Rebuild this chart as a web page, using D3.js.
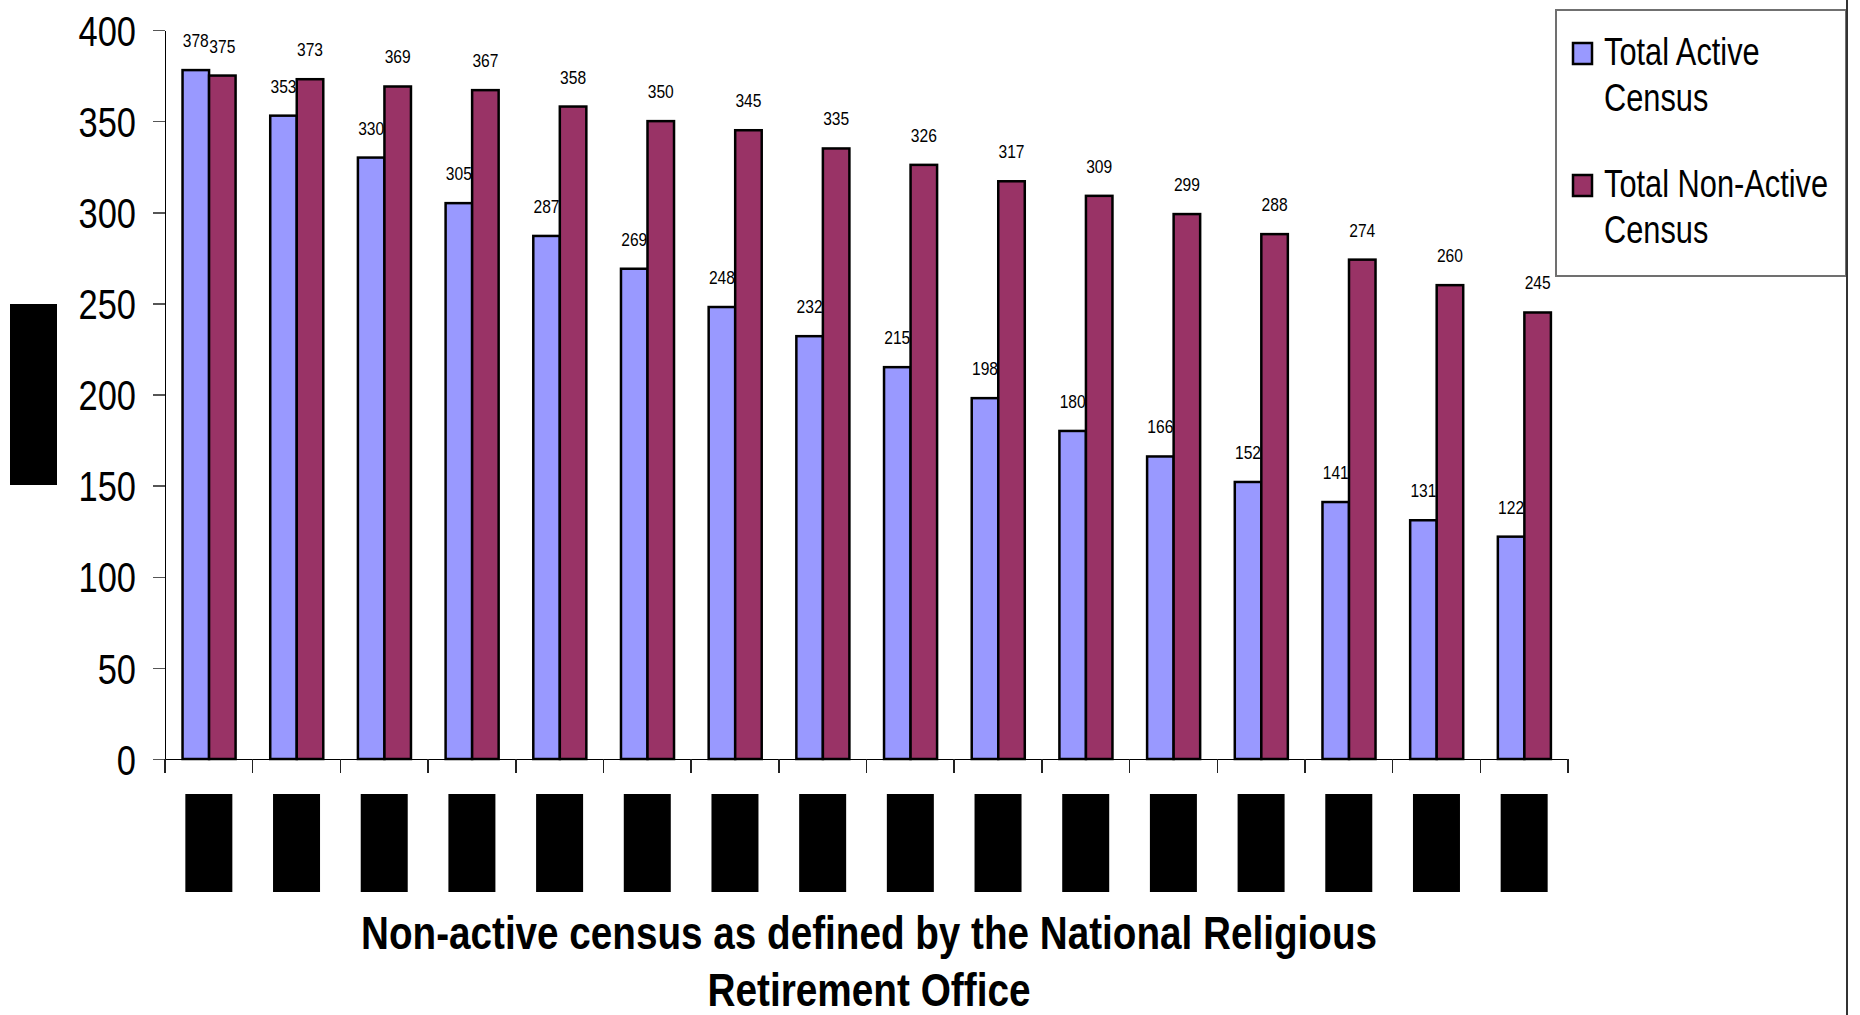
<!DOCTYPE html>
<meta charset="utf-8">
<style>

body {
  margin: 0;
  background: #fff;
}

svg { display: block; }

text { font-family: "Liberation Sans", Arial, sans-serif; }
.axis path, .axis line { shape-rendering: crispEdges; }
.y.axis text { font-size: 42px; fill: #000; }
.y.axis line { stroke: #555; stroke-width: 1.5px; }
.axis path.domain { stroke: #000; stroke-width: 1.5px; }
.bar { stroke: #000; stroke-width: 2.5px; }
.value { font-size: 19px; fill: #000; text-anchor: middle; }
.legend text { font-size: 38px; fill: #000; }
.title { font-size: 46px; font-weight: bold; fill: #000; text-anchor: middle; }

</style>
<body>
<script src="https://d3js.org/d3.v7.min.js"></script>
<script>

// categories are blacked out in the source, one box per group
var categories = ["1", "2", "3", "4", "5", "6", "7", "8", "9", "10", "11", "12", "13", "14", "15", "16"];
var series = ["Total Active Census", "Total Non-Active Census"];
var active = [378, 353, 330, 305, 287, 269, 248, 232, 215, 198, 180, 166, 152, 141, 131, 122];
var nonActive = [375, 373, 369, 367, 358, 350, 345, 335, 326, 317, 309, 299, 288, 274, 260, 245];
var yTicks = [0, 50, 100, 150, 200, 250, 300, 350, 400];
var colors = ["#9999ff", "#993366"];
var legendLines = [["Total Active", "Census"], ["Total Non-Active", "Census"]];
var titleLines = ["Non-active census as defined by the National Religious", "Retirement Office"];

var width = 1860,
    height = 1015,
    plot = {left: 165, right: 1568, top: 30, bottom: 759};

// no narrow face installed, so squeeze digits to an Arial Narrow width
var narrow = function(size) {
  return function(d) { return String(d).length * 0.456 * size; };
};

// squeeze any text to a share of its natural width
function condense(sel) {
  sel.each(function() {
    var w = this.getComputedTextLength();
    d3.select(this)
        .attr("textLength", w * 0.81)
        .attr("lengthAdjust", "spacingAndGlyphs");
  });
}

var svg = d3.select("body").append("svg")
    .attr("width", width)
    .attr("height", height);

var x0 = d3.scaleBand()
    .domain(categories)
    .range([plot.left, plot.right]);

var x1 = d3.scaleBand()
    .domain(series)
    .range([x0.bandwidth() * 0.2, x0.bandwidth() * 0.805]);

var y = d3.scaleLinear()
    .domain([0, 400])
    .range([plot.bottom, plot.top]);

var rows = categories.map(function(c, i) {
  return {cat: c, values: [active[i], nonActive[i]]};
});

// y axis
svg.append("g")
    .attr("class", "y axis")
    .attr("transform", "translate(" + plot.left + ",0)")
    .call(d3.axisLeft(y).tickValues(yTicks).tickSize(12).tickPadding(17).tickSizeOuter(0))
    .call(function(g) {
      g.selectAll("text")
          .attr("dy", "0.36em")
          .attr("textLength", narrow(42))
          .attr("lengthAdjust", "spacingAndGlyphs");
    });

// bars
var group = svg.append("g").selectAll("g")
    .data(rows)
  .enter().append("g")
    .attr("transform", function(d) { return "translate(" + x0(d.cat) + ",0)"; });

group.selectAll("rect")
    .data(function(d) { return d.values.map(function(v, i) { return {key: series[i], value: v, i: i}; }); })
  .enter().append("rect")
    .attr("class", "bar")
    .attr("x", function(d) { return x1(d.key); })
    .attr("width", x1.bandwidth())
    .attr("y", function(d) { return y(d.value); })
    .attr("height", function(d) { return y(0) - y(d.value); })
    .attr("fill", function(d) { return colors[d.i]; });

group.selectAll("text")
    .data(function(d) { return d.values.map(function(v, i) { return {key: series[i], value: v}; }); })
  .enter().append("text")
    .attr("class", "value")
    .attr("x", function(d) { return x1(d.key) + x1.bandwidth() / 2; })
    .attr("y", function(d) { return y(d.value) - 23; })
    .attr("textLength", function(d) { return narrow(19)(d.value); })
    .attr("lengthAdjust", "spacingAndGlyphs")
    .text(function(d) { return d.value; });

// x axis, ticks sit between the groups
var xAxis = svg.append("g")
    .attr("class", "x axis")
    .attr("transform", "translate(0," + plot.bottom + ")")
    .call(d3.axisBottom(x0).tickSize(0).tickFormat(""));

xAxis.selectAll(".sep")
    .data(categories.concat(["end"]))
  .enter().append("line")
    .attr("class", "sep")
    .attr("x1", function(d, i) { return plot.left + i * x0.step(); })
    .attr("x2", function(d, i) { return plot.left + i * x0.step(); })
    .attr("y1", 0)
    .attr("y2", 14)
    .attr("stroke", "#222")
    .attr("stroke-width", 1.5);

// redacted category labels
svg.append("g").selectAll("rect")
    .data(categories)
  .enter().append("rect")
    .attr("x", function(d) { return x0(d) + x0.bandwidth() / 2 - 23.5; })
    .attr("y", 794)
    .attr("width", 47)
    .attr("height", 98)
    .attr("fill", "#000");

// redacted y axis title
svg.append("rect")
    .attr("x", 10)
    .attr("y", 304)
    .attr("width", 47)
    .attr("height", 181)
    .attr("fill", "#000");

// x axis title
svg.selectAll(".title")
    .data(titleLines)
  .enter().append("text")
    .attr("class", "title")
    .attr("x", 869)
    .attr("y", function(d, i) { return 949 + i * 57; })
    .attr("textLength", function(d, i) { return i === 0 ? 1016 : 323; })
    .attr("lengthAdjust", "spacingAndGlyphs")
    .text(function(d) { return d; });

// legend
var legend = svg.append("g").attr("class", "legend");

legend.append("rect")
    .attr("x", 1556)
    .attr("y", 10)
    .attr("width", 290)
    .attr("height", 266)
    .attr("fill", "#fff")
    .attr("stroke", "#707070")
    .attr("stroke-width", 2);

var item = legend.selectAll(".item")
    .data(legendLines)
  .enter().append("g")
    .attr("class", "item")
    .attr("transform", function(d, i) { return "translate(1573," + (65 + i * 132) + ")"; });

item.append("rect")
    .attr("x", 0)
    .attr("y", -22)
    .attr("width", 19)
    .attr("height", 21)
    .attr("fill", function(d, i) { return colors[i]; })
    .attr("stroke", "#000")
    .attr("stroke-width", 2.5);

item.selectAll("text")
    .data(function(d) { return d; })
  .enter().append("text")
    .attr("x", 31)
    .attr("y", function(d, i) { return i * 46; })
    .text(function(d) { return d; })
    .call(condense);

// right edge border
svg.append("line")
    .attr("x1", 1847)
    .attr("x2", 1847)
    .attr("y1", 0)
    .attr("y2", height)
    .attr("stroke", "#333")
    .attr("stroke-width", 2);

</script>
</body>
